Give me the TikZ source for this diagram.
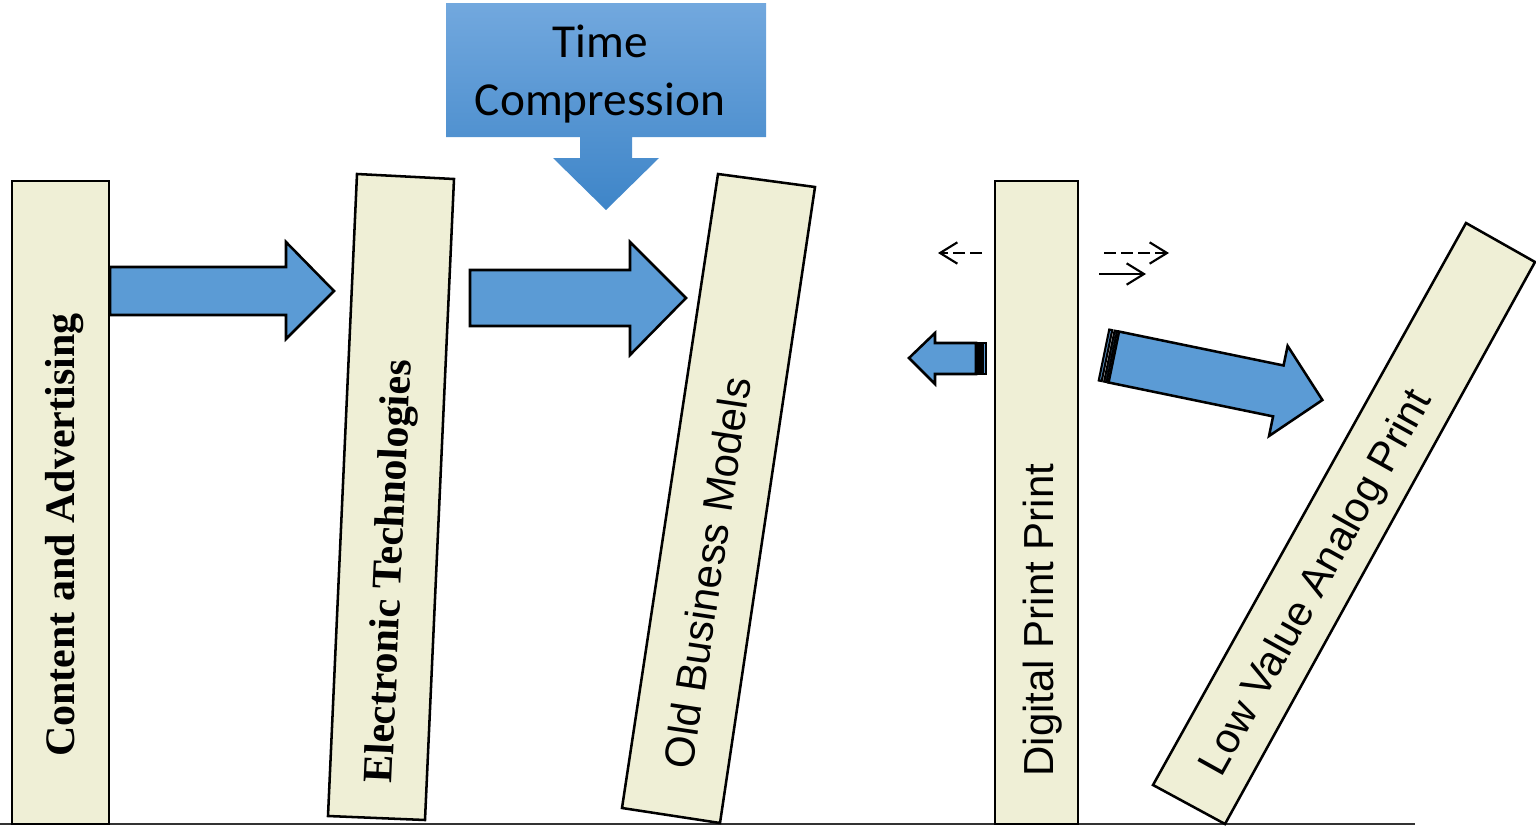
\documentclass[tikz,border=0pt]{standalone}
\usepackage{fontspec}
\setmainfont{Liberation Sans}
\newfontfamily\timesfont{Liberation Serif}
\newfontfamily\calibrifont{Carlito}
\usetikzlibrary{arrows.meta}

\definecolor{pillarfill}{RGB}{239,239,214}
\definecolor{arrowblue}{RGB}{91,155,213}
\definecolor{boxtop}{RGB}{114,168,222}
\definecolor{boxbottom}{RGB}{62,133,200}

\begin{document}
\begin{tikzpicture}[x=0.75pt,y=-0.75pt,
  pillar/.style={draw=black, line width=1.9pt, fill=pillarfill, line join=miter},
  bigarrow/.style={draw=black, line width=1.9pt, fill=arrowblue, line join=miter},
  tailstripe/.style={draw=black, line width=1.6pt, fill=arrowblue},
  sanslabel/.style={font=\fontsize{31.5}{36}\selectfont, anchor=base, inner sep=0pt},
  seriflabel/.style={font=\timesfont\bfseries\fontsize{31.5}{36}\selectfont, anchor=base, inner sep=0pt},
  hintarrow/.style={line width=1.6pt, -{Straight Barb[length=13pt,width=16pt]}},
  hintdash/.style={dash pattern=on 9pt off 3.75pt},
]
\useasboundingbox (0,0) rectangle (1536,828);

% ground line
\coordinate (g0) at (0,824);
\coordinate (g1) at (1415,824);
\draw[line width=1.6pt, draw=black!80] (g0) -- (g1);

% the five pillars
\draw[pillar] (12,181) -- (109,181) -- (109,824) -- (12,824) -- cycle;
\draw[pillar] (357,174) -- (454,179) -- (425,820) -- (328,816) -- cycle;
\draw[pillar] (718,174) -- (815,187) -- (720,823) -- (622,808) -- cycle;
\draw[pillar] (995,181) -- (1078,181) -- (1078,824) -- (995,824) -- cycle;
\draw[pillar] (1466,223) -- (1535,262) -- (1225,824) -- (1153,785) -- cycle;

% pillar labels
\node[seriflabel, rotate=90] (content) at (74.5,535) {Content and Advertising};
\node[seriflabel, rotate=87.4] (electronic) at (401.5,572) {Electronic Technologies};
\node[sanslabel, rotate=81.4] (oldbiz) at (722,575) {Old Business Models};
\node[sanslabel, rotate=90] (digital) at (1053,620) {Digital Print Print};
\node[sanslabel, rotate=60.9] (analog) at (1327,589) {Low Value Analog Print};

% block arrows between the first pillars
\draw[bigarrow] (110,267) -- (286,267) -- (286,242) -- (334,291) -- (286,339) -- (286,315) -- (110,315) -- cycle;
\draw[bigarrow] (470,270) -- (630,270) -- (630,242) -- (686,298) -- (630,355) -- (630,326) -- (470,326) -- cycle;

% time compression callout
\path[top color=boxtop, bottom color=boxbottom]
  (446,3) -- (766,3) -- (766,137) -- (632,137) -- (632,158) -- (659,158)
  -- (606,210) -- (553,158) -- (580,158) -- (580,137) -- (446,137) -- cycle;
\node[font=\calibrifont\fontsize{35.5}{43.5}\selectfont, align=center, inner sep=0pt] (timecomp) at (600,74) {Time\\Compression};

% striped arrow pointing left from the digital pillar
\draw[bigarrow] (976,343) -- (935,343) -- (935,333) -- (909,358) -- (935,384) -- (935,374) -- (976,374) -- cycle;
\draw[tailstripe] (978.5,343) -- (981,343) -- (981,374) -- (978.5,374) -- cycle;
\draw[tailstripe] (983,343) -- (986,343) -- (986,374) -- (983,374) -- cycle;

% striped arrow towards the falling analog pillar
\begin{scope}[shift={(1104,355)}, rotate=-11.65]
  \draw[bigarrow] (10,-26) -- (178,-26) -- (178,-46) -- (223,0) -- (178,46) -- (178,26) -- (10,26) -- cycle;
  \draw[tailstripe] (0,-26) -- (3,-26) -- (3,26) -- (0,26) -- cycle;
  \draw[tailstripe] (5.5,-26) -- (8,-26) -- (8,26) -- (5.5,26) -- cycle;
\end{scope}

% small direction hints
\coordinate (hl0) at (982,253);
\coordinate (hl1) at (938,253);
\coordinate (hr0) at (1104,253);
\coordinate (hr1) at (1169,253);
\coordinate (hs0) at (1099,274);
\coordinate (hs1) at (1146,274);
\draw[hintarrow, hintdash] (hl0) -- (hl1);
\draw[hintarrow, hintdash] (hr0) -- (hr1);
\draw[hintarrow] (hs0) -- (hs1);
\end{tikzpicture}
\end{document}
